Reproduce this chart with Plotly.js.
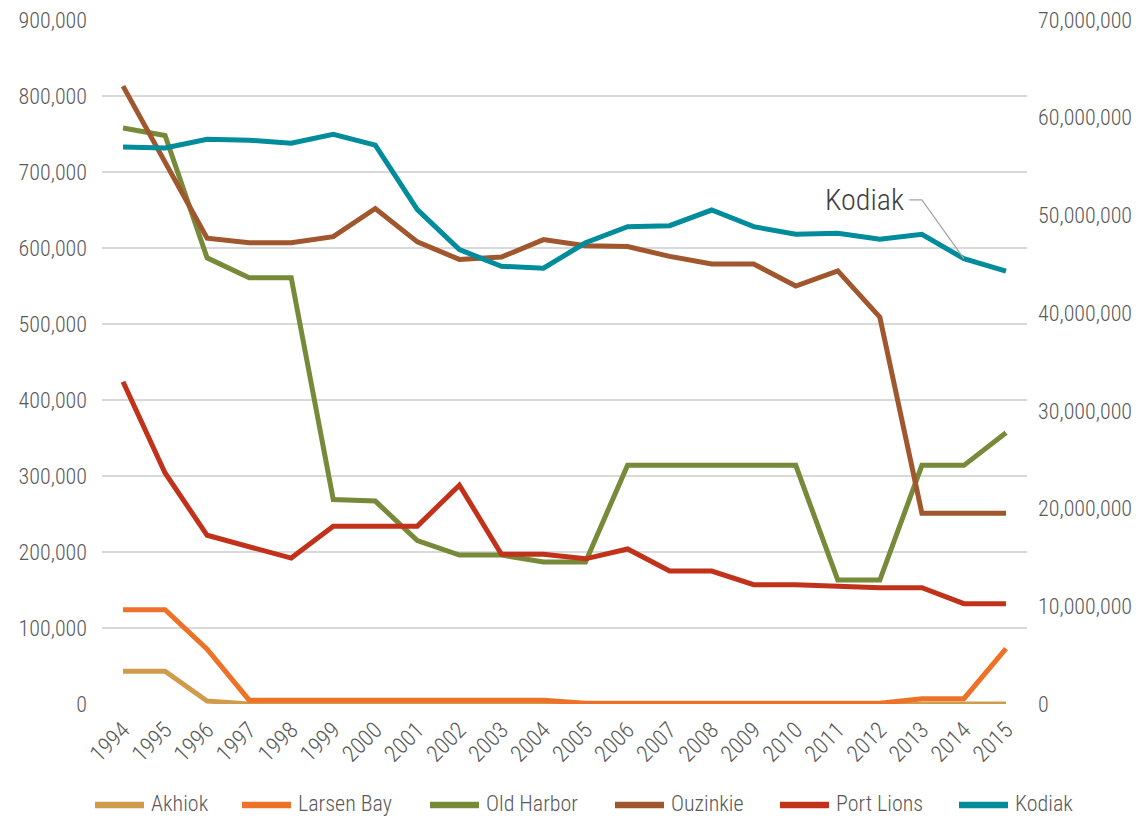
<!DOCTYPE html>
<html>
<head>
<meta charset="utf-8">
<script src="https://cdn.plot.ly/plotly-3.0.1.min.js"></script>
<style>html,body{margin:0;padding:0;background:#fff;}#chart{width:1148px;height:818px;}</style>
</head>
<body>
<div id="chart"></div>
<script>
const years = [1994,1995,1996,1997,1998,1999,2000,2001,2002,2003,2004,2005,2006,2007,2008,2009,2010,2011,2012,2013,2014,2015];
const akhiok = [43000,43000,4000,0,0,0,0,0,0,0,0,0,0,0,0,0,0,0,0,0,0,0];
const larsenBay = [124000,124000,72000,5000,5000,5000,5000,5000,5000,5000,5000,1000,1000,1000,1000,1000,1000,1000,1000,7000,7000,73000];
const oldHarbor = [758000,748000,587000,561000,561000,269000,267000,215000,196000,196000,187000,187000,314000,314000,314000,314000,314000,163000,163000,314000,314000,357000];
const ouzinkie = [813000,712000,613000,607000,607000,615000,652000,608000,585000,588000,611000,603000,602000,589000,579000,579000,550000,570000,509000,251000,251000,251000];
const portLions = [424000,304000,222000,207000,192000,234000,234000,234000,288000,197000,197000,191000,204000,175000,175000,157000,157000,155000,153000,153000,132000,132000];
const kodiak = [57000000,56900000,57800000,57700000,57400000,58300000,57200000,50600000,46500000,44800000,44600000,47200000,48850000,48950000,50550000,48850000,48070000,48170000,47560000,48070000,45570000,44300000];

const seriesNames = ['Akhiok','Larsen Bay','Old Harbor','Ouzinkie','Port Lions','Kodiak'];
const seriesValues = [akhiok, larsenBay, oldHarbor, ouzinkie, portLions, kodiak];
const seriesColors = ['#cf9c4b','#ee7128','#768a3a','#a0572e','#c2321b','#008c9a'];
const seriesAxes = ['y','y','y','y','y','y2'];

const FONT = "'Roboto Condensed', 'Roboto', sans-serif";
const TEXT = '#595959';
const data = seriesNames.map((n,i) => ({
  type:'scatter', mode:'lines', name:n, x:years, y:seriesValues[i], yaxis:seriesAxes[i],
  line:{color:seriesColors[i], width:5}, hoverinfo:'skip', showlegend:false
}));

// plot area in pixels: x 102..1027, y 20..704
const PL = 102, PR = 1027, PT = 20, PB = 704;
const px2x = p => (p - PL) / (PR - PL);
const px2y = p => (PB - p) / (PB - PT);
// legend entries (drawn as layout decoration)
const legendStarts = [92, 239, 427, 612, 777, 956];
const legendY = 803, legendLine = 55;
const shapes = [];
const annotations = [];
seriesNames.forEach((n,i) => {
  shapes.push({type:'line', xref:'paper', yref:'paper', x0:px2x(legendStarts[i]+3), x1:px2x(legendStarts[i]+legendLine-3),
               y0:px2y(legendY+2), y1:px2y(legendY+2), line:{color:seriesColors[i], width:6.5}, layer:'above'});
  annotations.push({xref:'paper', yref:'paper', x:px2x(legendStarts[i]+legendLine+3), y:px2y(legendY),
               xanchor:'left', yanchor:'middle', showarrow:false, text:n, borderpad:0,
               font:{family:FONT, size:22, weight:300, color:TEXT}});
});
// Kodiak callout with elbow leader line
shapes.push({type:'path', xref:'x', yref:'y2', path:'M2012.7,51600000 L2013,51600000 L2014,' + kodiak[20],
             line:{color:'#a6a6a6', width:1.3}});
annotations.push({xref:'x', yref:'y2', x:2012.62, y:51600000, xanchor:'right', yanchor:'middle', showarrow:false,
                  text:'Kodiak', font:{family:FONT, size:30, weight:300, color:'#404040'}});

const layout = {
  width:1148, height:818,
  margin:{l:PL, r:1148-PR, t:PT, b:818-PB},
  paper_bgcolor:'#ffffff', plot_bgcolor:'#ffffff',
  font:{family:FONT, color:TEXT, size:22, weight:300},
  showlegend:false,
  xaxis:{type:'linear', range:[1993.5, 2015.5], tickvals:years, ticktext:years.map(String), tickangle:-45,
         showgrid:false, zeroline:false, showline:false, ticks:'', ticklabelstandoff:7,
         tickfont:{family:FONT, size:23, weight:300, color:TEXT}},
  yaxis:{range:[0,900000], dtick:100000, tickformat:',d', showgrid:true, gridcolor:'#d9d9d9', gridwidth:1.5,
         zeroline:false, showline:false, ticks:'', ticklabelstandoff:14,
         tickfont:{family:FONT, size:22, weight:300, color:TEXT}},
  yaxis2:{range:[0,70000000], dtick:10000000, tickformat:',d', overlaying:'y', side:'right', showgrid:false,
          zeroline:false, showline:false, ticks:'', ticklabelstandoff:10,
          tickfont:{family:FONT, size:22, weight:300, color:TEXT}},
  shapes:shapes,
  annotations:annotations
};
Plotly.newPlot('chart', data, layout, {displayModeBar:false, staticPlot:true});
</script>
</body>
</html>
